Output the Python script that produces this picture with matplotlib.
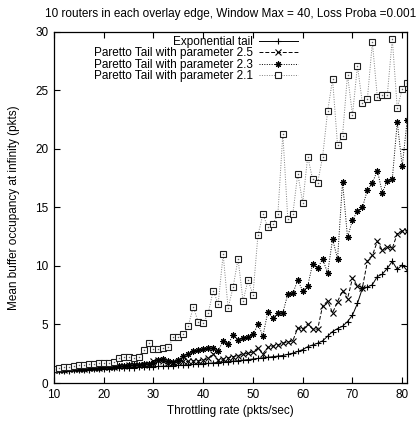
import matplotlib
matplotlib.use("Agg")
import matplotlib.pyplot as plt

plt.rcParams['font.family'] = ['Liberation Sans', 'DejaVu Sans']

# throttling rate (pkts/sec)
rate = list(range(10, 82))

exp_tail = [1.00, 1.02, 1.04, 1.06, 1.08, 1.10, 1.12, 1.14, 1.16, 1.18,
            1.20, 1.22, 1.24, 1.26, 1.28, 1.30, 1.32, 1.34, 1.36, 1.38,
            1.40, 1.42, 1.44, 1.46, 1.48, 1.50, 1.53, 1.56, 1.59, 1.62,
            1.65, 1.68, 1.72, 1.75, 1.80, 1.83, 1.87, 1.90, 1.95, 2.00,
            2.05, 2.10, 2.15, 2.20, 2.25, 2.30, 2.35, 2.45, 2.55, 2.70,
            2.85, 3.10, 3.25, 3.40, 3.60, 4.00, 4.40, 4.65, 4.85, 5.25,
            5.80, 6.80, 8.10, 8.20, 8.40, 9.10, 9.30, 9.80, 10.40, 9.70,
            10.10, 9.60]

pareto_25 = [1.10, 1.12, 1.14, 1.16, 1.18, 1.20, 1.23, 1.26, 1.29, 1.32,
             1.35, 1.38, 1.41, 1.44, 1.47, 1.50, 1.53, 1.56, 1.58, 1.60,
             1.90, 2.00, 1.85, 1.70, 1.75, 1.80, 1.85, 1.85, 1.90, 1.90,
             1.95, 2.10, 2.50, 1.95, 2.05, 2.15, 2.25, 2.35, 2.45, 2.55,
             2.65, 3.00, 2.50, 3.05, 3.15, 3.25, 3.40, 3.50, 3.60, 4.70,
             4.60, 5.05, 4.60, 4.60, 6.60, 7.00, 6.00, 6.95, 7.90, 7.20,
             8.95, 8.30, 8.15, 10.40, 10.90, 12.10, 11.35, 11.65, 11.50, 12.75,
             13.00, 13.00]

pareto_23 = [1.10, 1.12, 1.14, 1.16, 1.18, 1.20, 1.23, 1.26, 1.29, 1.32,
             1.35, 1.38, 1.41, 1.44, 1.47, 1.50, 1.54, 1.58, 1.62, 1.66,
             1.70, 2.00, 2.05, 1.90, 1.80, 2.00, 2.30, 2.50, 2.70, 2.85,
             2.90, 3.00, 3.00, 2.75, 3.60, 3.30, 4.10, 3.70, 3.85, 3.90,
             4.15, 5.00, 4.05, 6.10, 5.55, 6.00, 6.00, 7.60, 7.65, 8.80,
             7.85, 8.30, 10.20, 9.80, 10.60, 9.40, 12.30, 10.60, 17.20, 12.45,
             13.90, 14.70, 15.00, 16.50, 17.10, 18.15, 16.25, 17.30, 17.40, 22.30,
             18.50, 22.50]

pareto_21 = [1.20, 1.25, 1.35, 1.40, 1.45, 1.50, 1.55, 1.60, 1.60, 1.70,
             1.75, 1.75, 1.80, 2.10, 2.20, 2.20, 2.15, 2.25, 2.80, 3.40,
             2.90, 2.90, 2.95, 3.05, 3.95, 3.90, 4.15, 4.90, 6.50, 5.20,
             5.10, 5.95, 7.90, 6.75, 11.00, 6.40, 8.20, 10.60, 7.00, 8.80,
             7.55, 12.65, 14.40, 13.30, 13.60, 14.40, 21.30, 14.00, 14.40, 17.90,
             15.40, 19.35, 17.40, 17.10, 19.35, 23.20, 25.95, 20.30, 21.10, 26.35,
             22.90, 27.10, 23.90, 24.30, 29.10, 24.40, 24.60, 24.60, 29.40, 23.50,
             25.10, 25.60]

labels = ['Exponential tail',
          'Paretto Tail with parameter 2.5',
          'Paretto Tail with parameter 2.3',
          'Paretto Tail with parameter 2.1']

fig = plt.figure(figsize=(4.17, 4.22), dpi=100)
ax = fig.add_axes([0.1295, 0.0924, 0.847, 0.832])

lw = 0.7
ax.plot(rate, exp_tail, color='black', lw=lw, ls='-', marker='+', ms=4.5, mew=0.8,
        label=labels[0])
ax.plot(rate, pareto_25, color='black', lw=lw, ls=(0, (4, 2)), marker='x', ms=4.5, mew=0.8,
        label=labels[1])
ax.plot(rate, pareto_23, color='black', lw=lw, ls=(0, (1, 1.5)), marker=(8, 2, 0), ms=4.5,
        mew=0.8, label=labels[2])
ax.plot(rate, pareto_21, color='#808080', lw=lw, ls=(0, (1, 1.5)), marker='s', ms=4.2,
        mfc='white', mec='#202020', mew=0.8, label=labels[3])
# small dot in the middle of each square, gnuplot style
ax.plot(rate, pareto_21, ls='none', marker='s', ms=1.0, mfc='#606060', mec='none')

ax.set_xlim(10, 81)
ax.set_ylim(0, 30)
ax.set_xticks(range(10, 81, 10))
ax.set_yticks(range(0, 31, 5))
ax.tick_params(direction='in', length=4, width=0.8, top=True, right=True,
               labelsize=8.5, pad=4)
for s in ax.spines.values():
    s.set_linewidth(0.9)

ax.set_title('10 routers in each overlay edge, Window Max = 40, Loss Proba =0.001',
             fontsize=8.5, pad=11)
ax.set_xlabel('Throttling rate (pkts/sec)', fontsize=8.5, labelpad=3)
ax.set_ylabel('Mean buffer occupancy at infinity (pkts)', fontsize=8.5, labelpad=11)

ax.legend(loc='upper left', bbox_to_anchor=(0.089, 1.012), frameon=False,
          markerfirst=False, fontsize=8.5, handlelength=3.3, handletextpad=0.5,
          labelspacing=-0.05, borderaxespad=0.3)

fig.savefig('out.png', dpi=100)
